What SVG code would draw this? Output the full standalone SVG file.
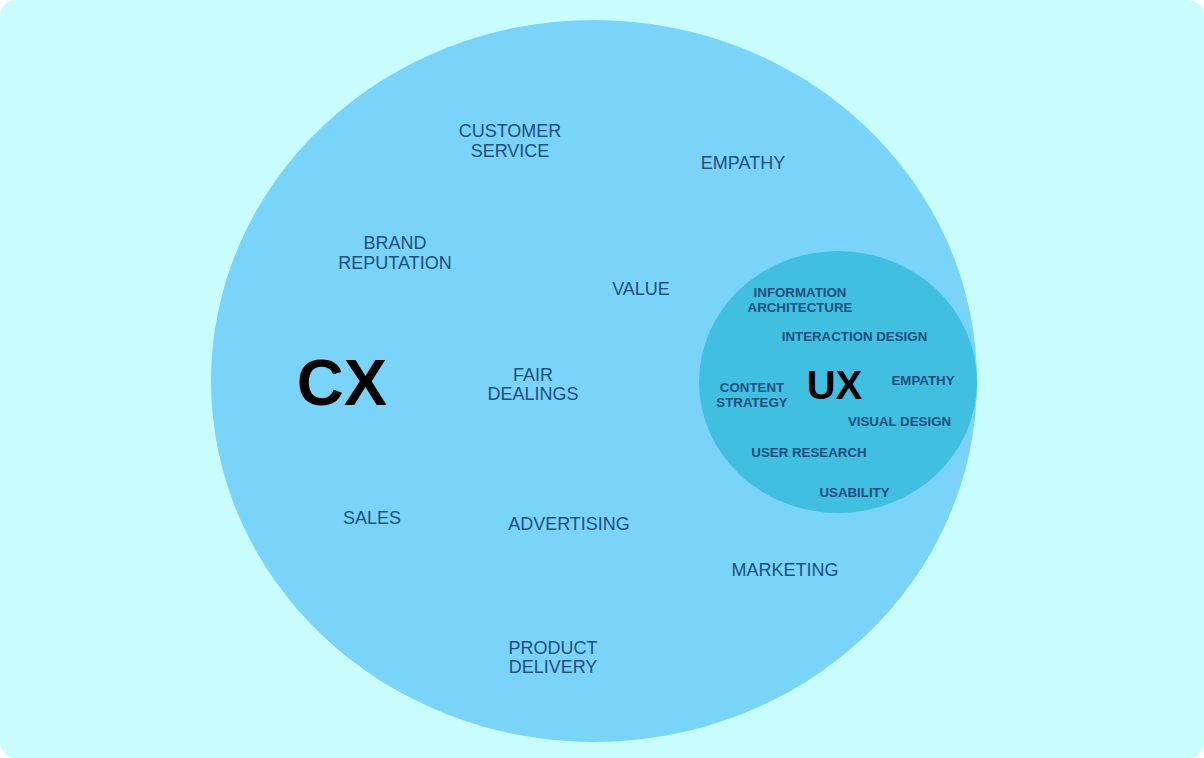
<svg xmlns="http://www.w3.org/2000/svg" width="1204" height="758" viewBox="0 0 1204 758">
<style>
.o{font-family:"Liberation Sans",Arial,sans-serif;font-size:18px;fill:#1f4f7c;text-anchor:middle}
.i{font-family:"Liberation Sans",Arial,sans-serif;font-size:13.3px;font-weight:bold;fill:#1f4f7c;text-anchor:middle}
.big{font-family:"Liberation Sans",Arial,sans-serif;font-weight:bold;fill:#000;text-anchor:middle}
</style>
<rect x="0" y="0" width="1204" height="758" rx="16" fill="#c9fdfd"/>
<g id="cx">
<ellipse cx="594" cy="381" rx="383" ry="361" fill="#7ad4f9"/>
<text class="big" x="342" y="405" font-size="65">CX</text>
</g>
<g id="ux">
<ellipse cx="838" cy="382" rx="139" ry="131" fill="#40bfe1"/>
<text class="big" x="834.5" y="399" font-size="40">UX</text>
</g>
<g id="customer-service"><text class="o" x="510" y="137">CUSTOMER</text><text class="o" x="510" y="157">SERVICE</text></g>
<g id="empathy"><text class="o" x="743" y="169">EMPATHY</text></g>
<g id="brand-reputation"><text class="o" x="395" y="249">BRAND</text><text class="o" x="395" y="269">REPUTATION</text></g>
<g id="value"><text class="o" x="641" y="295">VALUE</text></g>
<g id="fair-dealings"><text class="o" x="533" y="381">FAIR</text><text class="o" x="533" y="400">DEALINGS</text></g>
<g id="sales"><text class="o" x="372" y="524">SALES</text></g>
<g id="advertising"><text class="o" x="569" y="530">ADVERTISING</text></g>
<g id="marketing"><text class="o" x="785" y="576">MARKETING</text></g>
<g id="product-delivery"><text class="o" x="553" y="654">PRODUCT</text><text class="o" x="553" y="673">DELIVERY</text></g>
<g id="information-architecture"><text class="i" x="800" y="297">INFORMATION</text><text class="i" x="800" y="312">ARCHITECTURE</text></g>
<g id="interaction-design"><text class="i" x="854.5" y="341">INTERACTION DESIGN</text></g>
<g id="ux-empathy"><text class="i" x="923" y="385">EMPATHY</text></g>
<g id="content-strategy"><text class="i" x="752" y="392">CONTENT</text><text class="i" x="752" y="407">STRATEGY</text></g>
<g id="visual-design"><text class="i" x="899.5" y="426">VISUAL DESIGN</text></g>
<g id="user-research"><text class="i" x="809" y="457">USER RESEARCH</text></g>
<g id="usability"><text class="i" x="854.5" y="497">USABILITY</text></g>
<g id="connectors"/>
</svg>
